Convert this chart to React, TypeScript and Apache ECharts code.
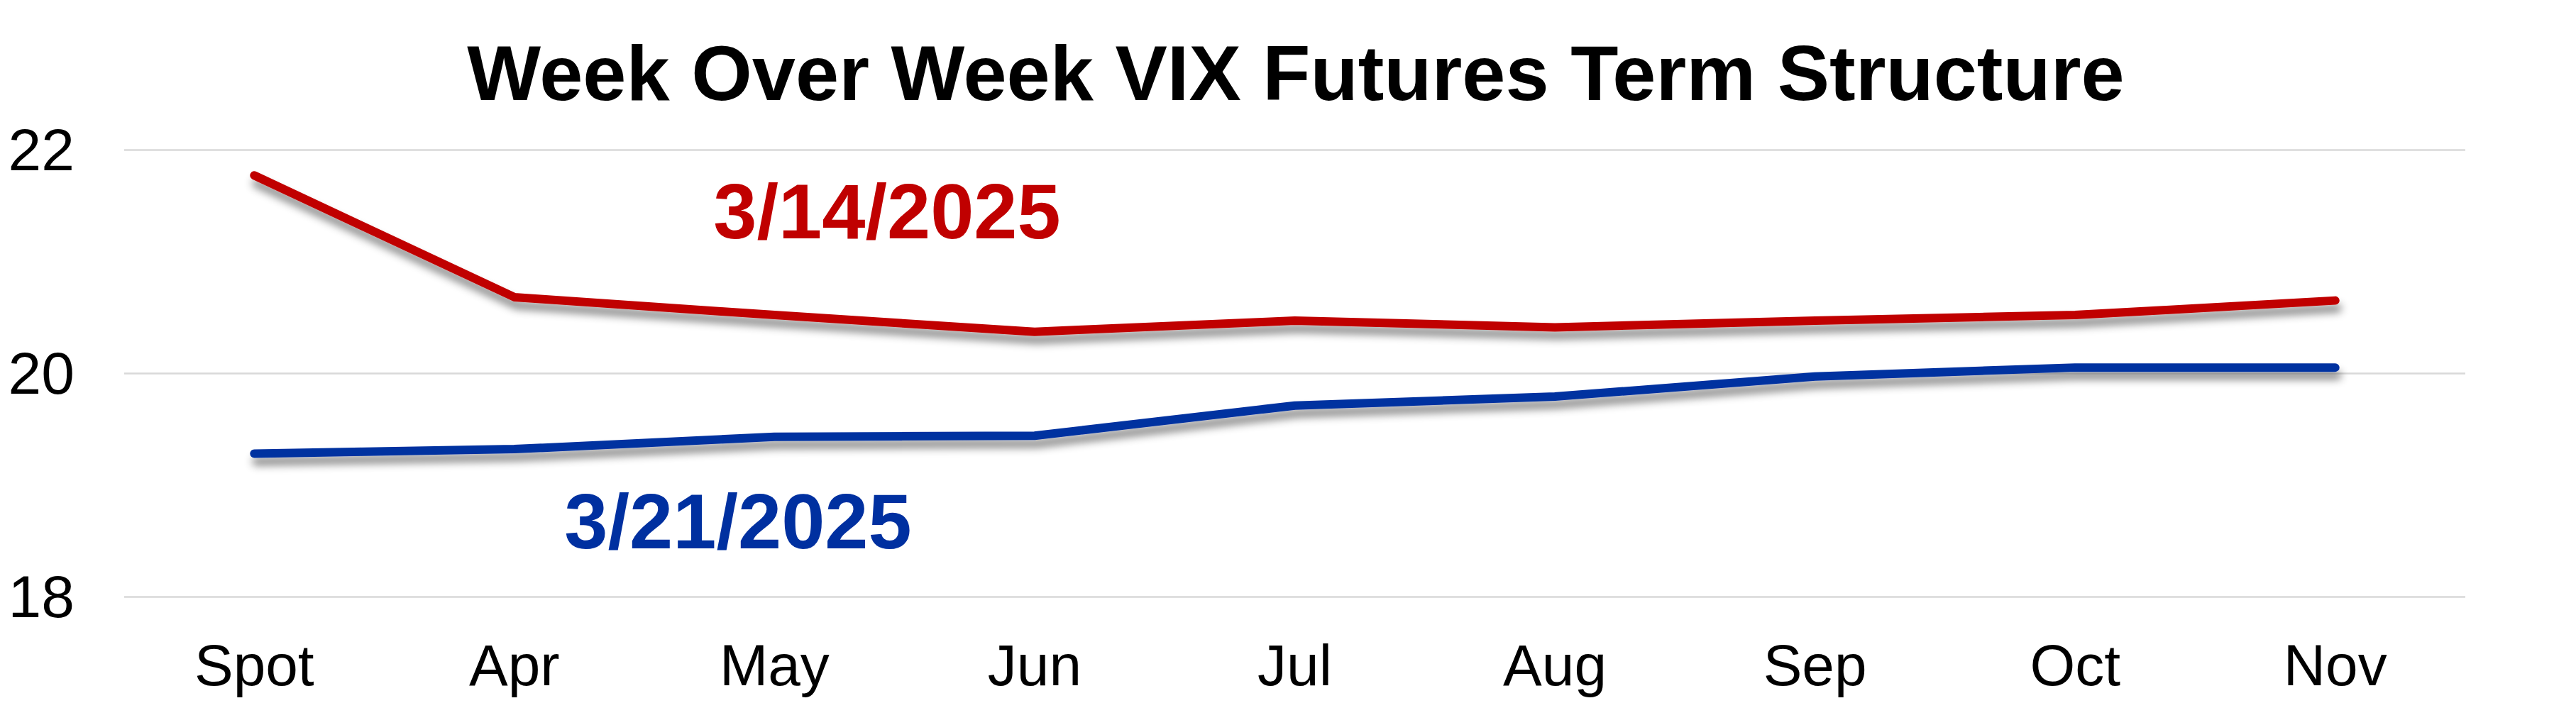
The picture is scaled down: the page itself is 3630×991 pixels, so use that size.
import React, { useEffect, useRef } from "react";
import * as echarts from "echarts";

const categories = ["Spot", "Apr", "May", "Jun", "Jul", "Aug", "Sep", "Oct", "Nov"];
const series0314 = [21.77, 20.68, 20.52, 20.37, 20.47, 20.41, 20.47, 20.52, 20.65];
const series0321 = [19.28, 19.32, 19.43, 19.44, 19.71, 19.79, 19.97, 20.05, 20.05];
const yTicks = { min: 18, max: 22, interval: 2 };
const titleText = "Week Over Week VIX Futures Term Structure";
const label0314 = "3/14/2025";
const label0321 = "3/21/2025";

const RED = "#C00000";
const BLUE = "#0030A0";
const FONT = "'Liberation Sans', Arial, sans-serif";

export default function App() {
  const ref = useRef<HTMLDivElement>(null);

  useEffect(() => {
    document.body.style.margin = "0";
    const chart = echarts.init(ref.current!, undefined, { renderer: "svg" });
    const shadow = {
      shadowColor: "rgba(0,0,0,0.45)",
      shadowBlur: 12,
      shadowOffsetX: 3,
      shadowOffsetY: 11,
    };
    chart.setOption({
      animation: false,
      backgroundColor: "#FFFFFF",
      grid: { left: 175, right: 156, top: 211, bottom: 150, containLabel: false },
      xAxis: {
        type: "category",
        data: categories,
        boundaryGap: true,
        axisLine: { show: false },
        axisTick: { show: false },
        axisLabel: {
          color: "#000000",
          fontSize: 82,
          fontFamily: FONT,
          margin: 55,
        },
      },
      yAxis: {
        type: "value",
        min: yTicks.min,
        max: yTicks.max,
        interval: yTicks.interval,
        axisLine: { show: false },
        axisTick: { show: false },
        axisLabel: {
          color: "#000000",
          fontSize: 84,
          fontFamily: FONT,
          margin: 70,
        },
        splitLine: { lineStyle: { color: "#D9D9D9", width: 2.5 } },
      },
      graphic: [
        {
          type: "text",
          x: 1826,
          y: 102,
          style: {
            text: titleText,
            fill: "#000000",
            font: `bold 110px ${FONT}`,
            textAlign: "center",
            textVerticalAlign: "middle",
          },
        },
        {
          type: "text",
          x: 1250,
          y: 297,
          style: {
            text: label0314,
            fill: RED,
            font: `bold 110px ${FONT}`,
            textAlign: "center",
            textVerticalAlign: "middle",
          },
        },
        {
          type: "text",
          x: 1040,
          y: 734,
          style: {
            text: label0321,
            fill: BLUE,
            font: `bold 110px ${FONT}`,
            textAlign: "center",
            textVerticalAlign: "middle",
          },
        },
      ],
      series: [
        {
          name: label0314,
          type: "line",
          data: series0314,
          symbol: "none",
          showSymbol: false,
          lineStyle: { color: RED, width: 12, cap: "round", join: "round", ...shadow },
          itemStyle: { color: RED },
        },
        {
          name: label0321,
          type: "line",
          data: series0321,
          symbol: "none",
          showSymbol: false,
          lineStyle: { color: BLUE, width: 12, cap: "round", join: "round", ...shadow },
          itemStyle: { color: BLUE },
        },
      ],
    });
    return () => chart.dispose();
  }, []);

  return (
    <div
      ref={ref}
      style={{ position: "fixed", left: 0, top: 0, width: 3630, height: 991, background: "#fff" }}
    />
  );
}
